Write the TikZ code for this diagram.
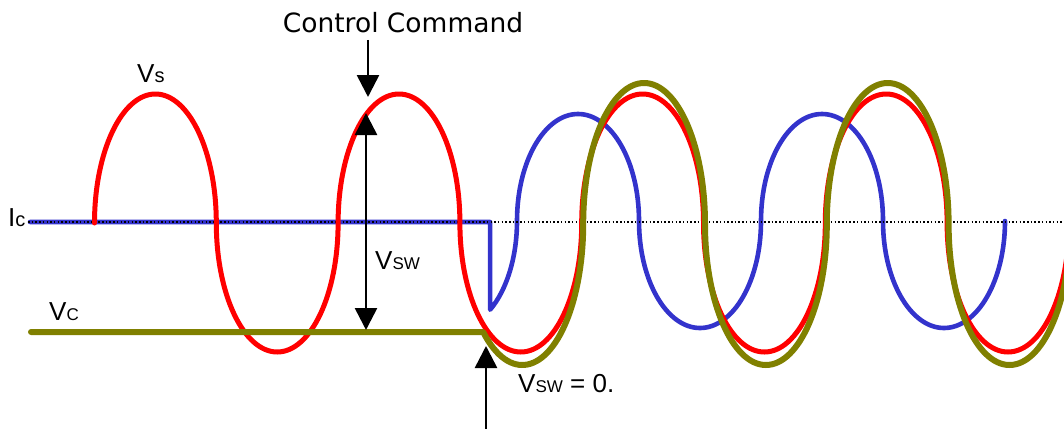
\documentclass[tikz,border=0pt]{standalone}
\usepackage{fontspec}
\setmainfont{Liberation Sans}
\newfontfamily\djv{DejaVu Sans}
\usetikzlibrary{arrows.meta,calc}
\definecolor{wred}{RGB}{255,0,0}
\definecolor{wblue}{RGB}{51,51,204}
\definecolor{wolive}{RGB}{128,128,0}
\newcommand\lsub[1]{{\fontsize{20}{24}\selectfont #1}}
\newcommand\lcap[1]{{\fontsize{17}{20}\selectfont #1}}
\begin{document}
\begin{tikzpicture}[x=1pt,y=-1pt,
  wave/.style={line cap=round, line join=round},
  redw/.style={wave, draw=wred, line width=5pt},
  bluew/.style={wave, draw=wblue, line width=4.6pt},
  olivew/.style={wave, draw=wolive, line width=6pt},
  dotline/.style={draw=black, line width=1.3pt, dash pattern=on 1.5pt off 2.2pt},
  arr/.style={draw=black, line width=2.6pt, -{Triangle[width=22pt,length=22pt]}},
  darr/.style={draw=black, line width=2.6pt, {Triangle[width=22pt,length=22pt]}-{Triangle[width=22pt,length=22pt]}},
  lbl/.style={anchor=base west, inner sep=0pt, font=\fontsize{26}{30}\selectfont},
  ttl/.style={anchor=base, inner sep=0pt, font=\djv\fontsize{26.5}{30}\selectfont}]
\useasboundingbox (0,0) rectangle (1064,428);
\begin{scope}
\clip (0,0) rectangle (1064,428);
% blue current
\coordinate (b0) at ($(456,221)+(304:61pt and 107pt)$);
\draw[bluew] (30,222) -- (b0 |- 0,222) -- (b0)
  arc[start angle=304,end angle=360,x radius=61pt,y radius=107pt]
  arc[start angle=180,end angle=0,x radius=61pt,y radius=107pt]
  arc[start angle=180,end angle=360,x radius=61pt,y radius=107pt]
  arc[start angle=180,end angle=0,x radius=61pt,y radius=107pt]
  arc[start angle=180,end angle=360,x radius=61pt,y radius=107pt];
% dotted axis
\coordinate (d1) at (28,222);
\coordinate (d2) at (1064,222);
\draw[dotline] (d1) -- (d2);
% red source voltage
\draw[redw] (94.5,223)
  arc[start angle=180,end angle=0,x radius=60.9pt,y radius=129pt]
  arc[start angle=180,end angle=360,x radius=60.9pt,y radius=129pt]
  arc[start angle=180,end angle=0,x radius=60.9pt,y radius=129pt]
  arc[start angle=180,end angle=360,x radius=60.9pt,y radius=129pt]
  arc[start angle=180,end angle=0,x radius=60.9pt,y radius=129pt]
  arc[start angle=180,end angle=360,x radius=60.9pt,y radius=129pt]
  arc[start angle=180,end angle=0,x radius=60.9pt,y radius=129pt]
  arc[start angle=180,end angle=360,x radius=60.9pt,y radius=129pt]
  arc[start angle=180,end angle=0,x radius=60.9pt,y radius=129pt];
% olive capacitor voltage
\coordinate (o0) at ($(522.3,224)+(230:60.9pt and 141pt)$);
\draw[olivew] (31,332) -- (o0)
  arc[start angle=230,end angle=360,x radius=60.9pt,y radius=141pt]
  arc[start angle=180,end angle=0,x radius=60.9pt,y radius=141pt]
  arc[start angle=180,end angle=360,x radius=60.9pt,y radius=141pt]
  arc[start angle=180,end angle=0,x radius=60.9pt,y radius=141pt]
  arc[start angle=180,end angle=360,x radius=60.9pt,y radius=141pt];
% arrows
\coordinate (cc1) at (368,40);
\coordinate (cc2) at (368,97);
\draw[arr] (cc1) -- (cc2);
\coordinate (sw1) at (366,113);
\coordinate (sw2) at (366,330);
\draw[darr] (sw1) -- (sw2);
\coordinate (z1) at (486,432);
\coordinate (z2) at (486,346);
\draw[arr] (z1) -- (z2);
\end{scope}
% labels
\node[ttl] (cc) at (403,33) {Control Command};
\node[lbl] (vs) at (137,82) {V\lsub{s}};
\node[lbl] (ic) at (8,226) {I\lsub{c}};
\node[lbl] (vc) at (49,320) {V\lcap{C}};
\node[lbl] (vsw) at (375,269) {V\lcap{SW}};
\node[lbl] (vz) at (518,392) {V\lcap{SW} = 0.};
\end{tikzpicture}
\end{document}
